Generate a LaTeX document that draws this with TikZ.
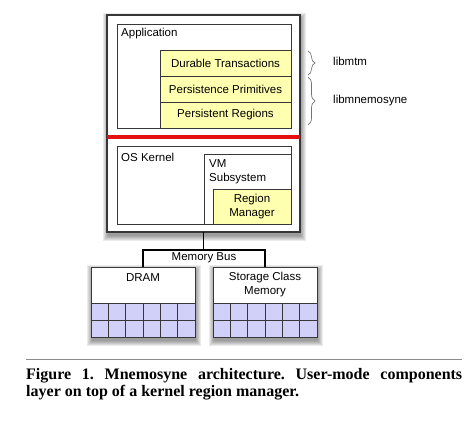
\documentclass[tikz,border=0pt]{standalone}
\usepackage{fontspec}
\setmainfont{Liberation Serif}
\newfontfamily\diagfont{Liberation Sans}
\usetikzlibrary{decorations.pathreplacing,calc}
\definecolor{yfill}{RGB}{255,255,176}
\definecolor{gfill}{RGB}{208,208,248}
\definecolor{bord}{RGB}{55,55,55}
\definecolor{redline}{RGB}{228,16,16}
\newcommand\softshadow[4]{%
  \foreach \s in {0,1,2,3,4,5}{%
    \fill[black, opacity=0.08] (#1+1-\s, #2+3-\s) rectangle (#3+1+\s, #4+4+\s);}}
\newcommand\bx[6]{\node[#2, minimum width={#5-#3}, minimum height={#6-#4}] (#1) at (#3,#4) {};}
\begin{document}
\begin{tikzpicture}[x=1pt,y=-1pt,
  box/.style={draw=bord, line width=1pt, fill=white, inner sep=0pt, outer sep=0pt, anchor=north west},
  ybox/.style={box, fill=yfill},
  lbl/.style={font=\diagfont\fontsize{11.5}{14}\selectfont, inner sep=0pt, align=center},
  llbl/.style={lbl, align=left, anchor=west},
  busline/.style={draw=black, line width=1.6pt},
  bracestyle/.style={draw=black!55, line width=0.7pt, decorate, decoration={brace, amplitude=7pt}}]
\useasboundingbox (0,0) rectangle (474,423);
% bus
\coordinate (bus) at (204,250);
% shadows
\softshadow{107}{15}{300}{232}
\softshadow{91}{267}{195}{337}
\softshadow{213}{267}{317}{337}
% outer box
\bx{outer}{box, line width=1.3pt}{107}{15}{300}{232}
% application
\bx{app}{box}{117}{24}{291}{128}
\node[llbl] (applbl) at (121,34) {Application};
\bx{dur}{ybox}{160}{50}{291}{76}
\bx{prim}{ybox}{160}{76}{291}{102}
\bx{reg}{ybox}{160}{102}{291}{128}
\node[lbl] (durlbl) at (dur.center) {Durable Transactions};
\node[lbl] (primlbl) at (prim.center) {Persistence Primitives};
\node[lbl] (reglbl) at (reg.center) {Persistent Regions};
% red line
\draw[redline, line width=3.6pt] (outer.west |- 0,137) coordinate (rl) -- (outer.east |- 0,137) coordinate (rr);
% kernel
\bx{kern}{box}{117}{146}{291}{224}
\node[llbl] (kernlbl) at (121,157) {OS Kernel};
\bx{vm}{box}{204}{154}{291}{224}
\node[llbl] (vmlbl) at (209,172) {VM\\Subsystem};
\bx{rm}{ybox}{213}{189}{291}{224}
\node[lbl] (rmlbl) at (rm.center) {Region\\Manager};
% braces
\draw[bracestyle] ($(dur.north east)+(17,1)$) -- ($(dur.south east)+(17,-1)$);
\draw[bracestyle] ($(prim.north east)+(17,1)$) -- ($(reg.south east)+(17,-3)$);
\node[llbl] (mtm) at (333,61) {libmtm};
\node[llbl] (mnem) at (333,101) {libmnemosyne};
% memory
\bx{dram}{box}{91}{267}{195}{337}
\bx{scm}{box}{213}{267}{317}{337}
\draw[busline] (outer.south) -- (outer.south |- bus);
\draw[busline] (dram.north) |- (bus) -| (scm.north);
\node[lbl] (buslbl) at (204,258) {Memory Bus};
\foreach \xo in {91,213}{
  \fill[gfill] (\xo,303) rectangle (\xo+104,337);
  \foreach \i in {1,...,5}{\draw[bord, line width=0.8pt] (\xo+\i*104/6,303) -- (\xo+\i*104/6,337);}
  \draw[bord, line width=0.8pt] (\xo,303) -- (\xo+104,303);
  \draw[bord, line width=0.8pt] (\xo,320) -- (\xo+104,320);
  \draw[bord, line width=1pt] (\xo,267) rectangle (\xo+104,337);
}
\node[lbl] (dramlbl) at (143,278) {DRAM};
\node[lbl] (scmlbl) at (265,285) {Storage Class\\Memory};
% caption
\draw[black!45, line width=0.9pt] (26,359) -- (462,359);
\node[anchor=north west, inner sep=0pt, text width=436pt, align=justify,
      font=\bfseries\fontsize{16}{17}\selectfont] (cap) at (26,368)
  {\frenchspacing Figure 1. Mnemosyne architecture. User-mode components\linebreak layer on top of a kernel region manager.};
\end{tikzpicture}
\end{document}
